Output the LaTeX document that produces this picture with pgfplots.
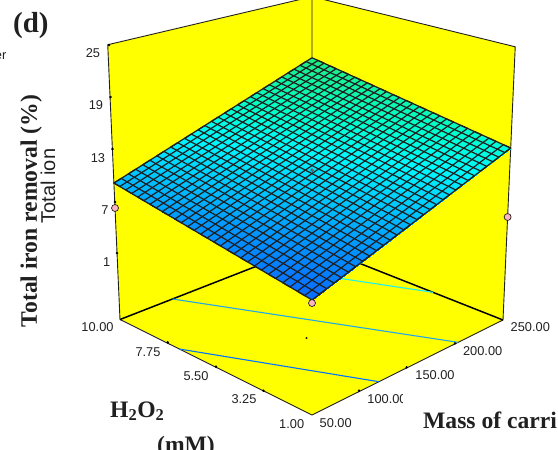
\documentclass[border=0pt]{standalone}
\usepackage{pgfplots}
\usepackage{fontspec}
\pgfplotsset{compat=1.18}
\setmainfont{Liberation Serif}
\newfontfamily\arialf{Liberation Sans}
\definecolor{ink}{HTML}{202020}
\definecolor{wall}{HTML}{FFFF00}
\definecolor{pinkm}{HTML}{FFB4C4}
\pgfplotsset{table/proj/.style={x expr={MX(\thisrow{m},\thisrow{h},\thisrow{z})},y expr={MY(\thisrow{m},\thisrow{h},\thisrow{z})}}}
\newcommand{\tl}[3]{\node[font=\arialf\fontsize{12.8}{13}\selectfont,text=ink,inner sep=0pt,anchor=center] at (axis cs:#1,#2) {#3};}
\begin{document}
\begin{tikzpicture}
\clip (0,0) rectangle (558pt,450pt);
\begin{axis}[at={(0,0)},anchor=south west,scale only axis,width=558pt,height=450pt,
  xmin=0,xmax=558,ymin=0,ymax=450,y dir=reverse,axis lines=none,enlargelimits=false,clip=true,
  declare function={
    UU(\m)=(\m-50)/200; VV(\h)=(\h-1)/9; WW(\z)=(\z+7.15)/32.15;
    PD(\u,\v,\w)=1+0.13584*\u+0.12992*\v-0.0681*\w;
    PX(\u,\v,\w)=(259.33*\u-176.41*\v-21.2*\w+312)/PD(\u,\v,\w);
    PY(\u,\v,\w)=(-51.53*\u-53.99*\v-313.5*\w+415)/PD(\u,\v,\w);
    MX(\m,\h,\z)=PX(UU(\m),VV(\h),WW(\z));
    MY(\m,\h,\z)=PY(UU(\m),VV(\h),WW(\z));
  },
  colormap={sc}{rgb255(0)=(10,105,255); rgb255(26)=(0,150,255); rgb255(66)=(0,248,255); rgb255(86)=(0,255,205); rgb255(120)=(30,235,130)},
  point meta min=5.4,point meta max=17.4]
% walls and floor
\addplot[fill=wall,draw=none] table[proj]{
m h z
50 10 -7.15
50 10 25
250 10 25
250 10 -7.15
} --cycle;
\addplot[fill=wall,draw=none] table[proj]{
m h z
250 10 -7.15
250 10 25
250 1 25
250 1 -7.15
} --cycle;
\addplot[fill=wall,draw=none] table[proj]{
m h z
50 10 -7.15
250 10 -7.15
250 1 -7.15
50 1 -7.15
} --cycle;
% outline
\addplot[draw=ink,line width=0.9pt] table[proj]{
m h z
50 1 -7.15
50 10 -7.15
50 10 25
250 10 25
250 1 25
250 1 -7.15
50 1 -7.15
};
\addplot[draw=ink,line width=0.9pt] table[proj]{
m h z
250 10 25
250 10 -7.15
};
\addplot[draw=black,line width=1.5pt] table[proj]{
m h z
50 10 -7.15
250 10 -7.15
250 1 -7.15
};
% contour lines on the floor
\addplot[draw=black!0!blue!55!cyan,line width=1.1pt] table[proj]{
m h z
50 6.98 -7.15
114.4 1 -7.15
};
\addplot[color={rgb,255:red,32;green,168;blue,232},line width=1.1pt] table[proj]{
m h z
100.3 10 -7.15
198.3 1 -7.15
};
\addplot[color={rgb,255:red,32;green,240;blue,240},line width=1.1pt] table[proj]{
m h z
188 10 -7.15
250 4.08 -7.15
};
% surface
\addplot[surf,shader=interp,mesh/rows=5,mesh/cols=5,point meta=\thisrow{z}] table[proj]{
m h z
50 1 5.47
100 1 7.49
150 1 9.51
200 1 11.53
250 1 13.55
50 3.25 6.43
100 3.25 8.45
150 3.25 10.47
200 3.25 12.49
250 3.25 14.51
50 5.5 7.40
100 5.5 9.42
150 5.5 11.44
200 5.5 13.46
250 5.5 15.48
50 7.75 8.36
100 7.75 10.38
150 7.75 12.40
200 7.75 14.42
250 7.75 16.44
50 10 9.32
100 10 11.34
150 10 13.36
200 10 15.38
250 10 17.40
};
% mesh, lines of constant mass
\addplot[draw=black!88,line width=1.2pt,line join=round] table[proj]{
m h z
50 1 5.47
50 10 9.32
56.67 10 9.59
56.67 1 5.74
63.33 1 6.01
63.33 10 9.86
70 10 10.13
70 1 6.28
76.67 1 6.55
76.67 10 10.40
83.33 10 10.67
83.33 1 6.82
90 1 7.09
90 10 10.94
96.67 10 11.21
96.67 1 7.36
103.33 1 7.62
103.33 10 11.47
110 10 11.74
110 1 7.89
116.67 1 8.16
116.67 10 12.01
123.33 10 12.28
123.33 1 8.43
130 1 8.70
130 10 12.55
136.67 10 12.82
136.67 1 8.97
143.33 1 9.24
143.33 10 13.09
150 10 13.36
150 1 9.51
156.67 1 9.78
156.67 10 13.63
163.33 10 13.90
163.33 1 10.05
170 1 10.32
170 10 14.17
176.67 10 14.44
176.67 1 10.59
183.33 1 10.86
183.33 10 14.71
190 10 14.98
190 1 11.13
196.67 1 11.40
196.67 10 15.25
203.33 10 15.51
203.33 1 11.66
210 1 11.93
210 10 15.78
216.67 10 16.05
216.67 1 12.20
223.33 1 12.47
223.33 10 16.32
230 10 16.59
230 1 12.74
236.67 1 13.01
236.67 10 16.86
243.33 10 17.13
243.33 1 13.28
250 1 13.55
250 10 17.40
};
% mesh, lines of constant H2O2
\addplot[draw=black!88,line width=1.2pt,line join=round] table[proj]{
m h z
50 1.0 5.47
250 1.0 13.55
250 1.3 13.68
50 1.3 5.60
50 1.6 5.73
250 1.6 13.81
250 1.9 13.93
50 1.9 5.85
50 2.2 5.98
250 2.2 14.06
250 2.5 14.19
50 2.5 6.11
50 2.8 6.24
250 2.8 14.32
250 3.1 14.45
50 3.1 6.37
50 3.4 6.50
250 3.4 14.58
250 3.7 14.70
50 3.7 6.62
50 4.0 6.75
250 4.0 14.83
250 4.3 14.96
50 4.3 6.88
50 4.6 7.01
250 4.6 15.09
250 4.9 15.22
50 4.9 7.14
50 5.2 7.27
250 5.2 15.35
250 5.5 15.48
50 5.5 7.40
50 5.8 7.52
250 5.8 15.60
250 6.1 15.73
50 6.1 7.65
50 6.4 7.78
250 6.4 15.86
250 6.7 15.99
50 6.7 7.91
50 7.0 8.04
250 7.0 16.12
250 7.3 16.25
50 7.3 8.17
50 7.6 8.29
250 7.6 16.37
250 7.9 16.50
50 7.9 8.42
50 8.2 8.55
250 8.2 16.63
250 8.5 16.76
50 8.5 8.68
50 8.8 8.81
250 8.8 16.89
250 9.1 17.02
50 9.1 8.94
50 9.4 9.07
250 9.4 17.15
250 9.7 17.27
50 9.7 9.19
50 10 9.32
250 10 17.40
};
% design points
\addplot[only marks,mark=*,mark size=3.5pt,mark options={fill=pinkm,draw=ink,line width=0.7pt}] table[proj]{
m h z
50 10 6.38
250 1 5.44
50 1 5.14
};
\addplot[only marks,mark=*,mark size=1.5pt,mark options={fill=pinkm!60!black,draw=ink,line width=0.3pt}] table[proj]{
m h z
150 5.5 10.91
};
\addplot[only marks,mark=*,mark size=0.8pt,mark options={fill=black!70!yellow,draw=none}] table[proj]{
m h z
126 4.67 -7.15
};
% tick dots on the three axes, at their places in the picture
\addplot[only marks,mark=*,mark size=1pt,mark options={fill=black,draw=none}] table[x=px,y=py]{
px py
109 45
110.5 97
112.5 149
115 202
117 253
167.7 342.3
216 366.7
263.3 390.7
359 390.7
406.7 367.3
455 343.3
};
% labels
\tl{93}{53}{25}\tl{96}{105.5}{19}\tl{98}{158}{13}\tl{105}{210}{7}\tl{106.7}{261.7}{1}
\tl{97.5}{327}{10.00}\tl{148}{351.7}{7.75}\tl{196}{375.7}{5.50}\tl{244}{399.3}{3.25}\tl{291.7}{424}{1.00}
\tl{335.7}{423}{50.00}\tl{387}{399}{100.00}\tl{435}{375.3}{150.00}\tl{482.7}{351.3}{200.00}\tl{530.3}{327.3}{250.00}
\fill[white] (axis cs:403,389) rectangle (axis cs:411,408);
\node[font=\fontsize{29}{30}\selectfont\bfseries,text=ink,anchor=base west,inner sep=0pt] at (axis cs:13,32) {(d)};
\node[font=\arialf\fontsize{12.8}{13}\selectfont,text=ink,anchor=base east,inner sep=0pt] at (axis cs:6.5,59.5) {er};
\node[font=\fontsize{23.6}{24}\selectfont\bfseries,text=ink,anchor=base,rotate=90,inner sep=0pt] at (axis cs:37,211) {Total iron removal (\%)};
\node[font=\arialf\fontsize{20}{21}\selectfont,text=ink,anchor=base,rotate=90,inner sep=0pt] at (axis cs:55,186) {Total ion};
\node[font=\fontsize{23.6}{24}\selectfont\bfseries,text=ink,anchor=base west,inner sep=0pt] at (axis cs:110,417) {H\textsubscript{2}O\textsubscript{2}};
\node[font=\fontsize{23.6}{24}\selectfont\bfseries,text=ink,anchor=base,inner sep=0pt] at (axis cs:186,452) {(mM)};
\node[font=\fontsize{23.6}{24}\selectfont\bfseries,text=ink,anchor=base west,inner sep=0pt] at (axis cs:423,428) {Mass of carri};
\end{axis}
\end{tikzpicture}
\end{document}
